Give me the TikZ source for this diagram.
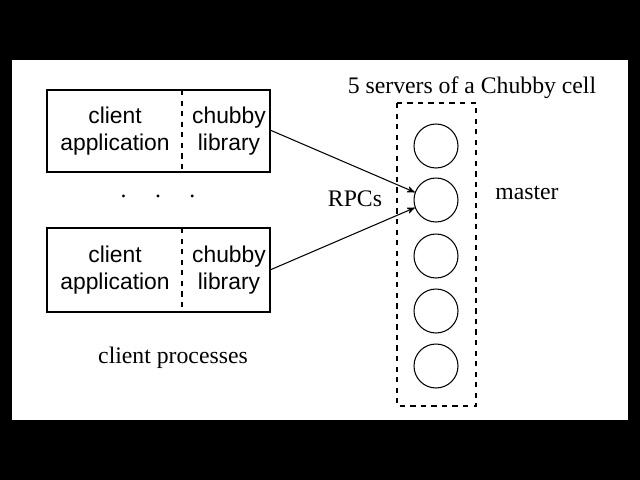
\documentclass[tikz,border=0pt]{standalone}
\usepackage{fontspec}
\setmainfont{Liberation Serif}
\newfontfamily\boxfont{Liberation Sans}
\usetikzlibrary{arrows,shapes}

\begin{document}
\begin{tikzpicture}[x=0.02cm,y=-0.02cm,>=stealth',semithick,
  boxtext/.style={font=\boxfont\fontsize{13}{15.5}\selectfont,align=center},
  plain/.style={font=\fontsize{13.5}{16}\selectfont},
  server/.style={shape=circle,draw=black,minimum size=0.88cm,inner sep=0pt}]
                \fill[black](0,0)rectangle(640,480);
                \fill[white](12,60)rectangle(628,420);
                \useasboundingbox(0,0)rectangle(640,480);
                % client processes
                \draw(47,90)rectangle(270,172);
                \draw[dashed](182,90)--(182,172);
                \draw(47,228)rectangle(270,312);
                \draw[dashed](182,228)--(182,312);
                \node[boxtext](App1)at(115,131){client\\application};
                \node[boxtext](Lib1)at(229,131){chubby\\library};
                \node[boxtext](App2)at(115,270){client\\application};
                \node[boxtext](Lib2)at(229,270){chubby\\library};
                \coordinate(Out1)at(270,130);
                \coordinate(Out2)at(270,270);
                \node[plain](Dots)at(158,196){.\hspace{1.2em}.\hspace{1.2em}.};
                \node[plain](Clients)at(173,358){client processes};
                % chubby cell
                \draw[dashed](397,103)rectangle(476,406);
                \node[server](S1)at(436,146){};
                \node[server](S2)at(436,200){};
                \node[server](S3)at(436,256){};
                \node[server](S4)at(436,311){};
                \node[server](S5)at(436,366){};
                \node[plain](Cell)at(472,88){5 servers of a Chubby cell};
                \node[plain](RPCs)at(355,199){RPCs};
                \node[plain](Master)at(527,193){master};
                \draw[->](Out1)--(S2.160);
                \draw[->](Out2)--(S2.200);
            \end{tikzpicture}
\end{document}
